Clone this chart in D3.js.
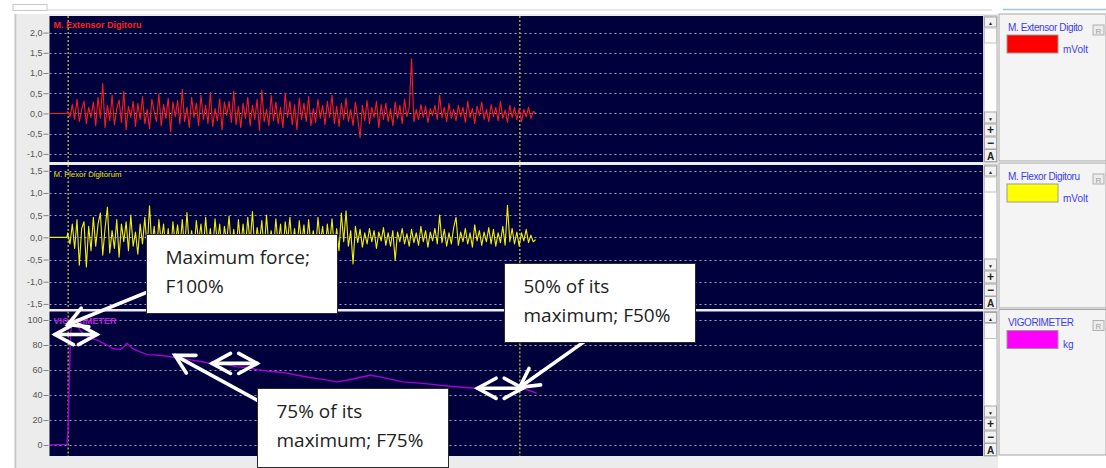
<!DOCTYPE html>
<html>
<head>
<meta charset="utf-8">
<script src="https://cdn.jsdelivr.net/npm/d3@7"></script>
<style>
  body { margin: 0; background: #fff; }
  svg { display: block; }
</style>
</head>
<body>
<div id="chart"></div>
<script>
// ---- data ----
// time axis (seconds)
const timeTicks = [0, 20, 40, 60, 80, 100, 120, 140, 160];
const timeTickLabels = ["", "00:20.0", "00:40.0", "01:00.0", "01:20.0", "01:40.0", "02:00.0", "02:20.0", "02:40.0"];
const cursorTimes = [3.2, 80.4];

const extensorTicks = [-1, -0.5, 0, 0.5, 1, 1.5, 2];
const flexorTicks = [-1.5, -1, -0.5, 0, 0.5, 1, 1.5];
const vigTicks = [0, 20, 40, 60, 80, 100];

// EMG samples (mV), one every 0.4 s starting at 3.1 s
const emgStart = 3.1, emgStep = 0.4;
const extensorValues = [
  0.05, -0.08, 0.22, -0.15, 0.35, -0.2, 0.1, 0.3, -0.25, 0.15,
  -0.1, 0.28, -0.3, 0.4, -0.12, 0.74, -0.35, 0.2, -0.18, 0.45,
  -0.28, 0.12, 0.33, -0.22, 0.55, -0.4, 0.18, -0.1, 0.3, -0.32,
  0.25, -0.15, 0.42, -0.25, 0.1, -0.38, 0.35, 0.05, -0.2, 0.48,
  -0.3, 0.22, -0.12, 0.38, -0.45, 0.28, -0.08, 0.32, -0.26, 0.6,
  -0.2, 0.15, -0.35, 0.4, -0.1, 0.25, -0.3, 0.45, -0.15, 0.2,
  -0.25, 0.52, -0.32, 0.12, -0.18, 0.36, -0.4, 0.28, -0.05, 0.3,
  -0.22, 0.55, -0.28, 0.18, -0.35, 0.25, -0.12, 0.4, -0.3, 0.2,
  -0.15, 0.35, -0.42, 0.58, -0.2, 0.1, -0.3, 0.45, -0.18, 0.28,
  -0.25, 0.15, -0.35, 0.5, -0.1, 0.3, -0.28, 0.22, -0.4, 0.38,
  -0.15, 0.25, -0.2, 0.42, -0.3, 0.12, -0.22, 0.35, -0.12, 0.2,
  -0.28, 0.3, -0.1, 0.45, -0.25, 0.18, -0.32, 0.25, -0.15, 0.38,
  -0.2, 0.1, -0.3, 0.28, -0.12, -0.6, 0.2, -0.18, 0.32, -0.25,
  0.15, -0.1, 0.3, -0.35, 0.22, -0.15, 0.25, -0.2, 0.12, -0.3,
  0.28, -0.12, 0.2, -0.25, 0.35, -0.08, 0.15, 1.35, -0.2, 0.1,
  -0.15, 0.22, -0.1, 0.18, -0.22, 0.12, -0.05, 0.2, -0.15, 0.45,
  -0.1, 0.15, -0.2, 0.25, -0.12, 0.1, -0.18, 0.2, -0.08, 0.15,
  -0.22, 0.3, -0.1, 0.12, -0.25, 0.18, -0.05, 0.28, -0.15, 0.1,
  -0.2, 0.22, -0.08, 0.15, -0.18, 0.3, -0.12, 0.08, -0.22, 0.2,
  -0.1, 0.15, -0.15, 0.12, -0.2, 0.1, -0.08, 0.15, -0.12, 0.05, 0.02
];
const flexorValues = [
  0.1, -0.15, 0.3, -0.25, 0.4, -0.63, 0.2, 0.35, -0.67, 0.25,
  -0.3, 0.45, -0.2, 0.3, 0.55, -0.4, 0.2, 0.68, -0.35, 0.15,
  -0.25, 0.4, -0.45, 0.3, -0.1, 0.35, -0.3, 0.5, -0.2, 0.12,
  -0.38, 0.3, -0.15, 0.45, -0.28, 0.71, -0.2, 0.25, -0.35, 0.4,
  -0.12, 0.3, -0.3, 0.2, -0.42, 0.35, -0.15, 0.28, -0.25, 0.4,
  -0.3, 0.56, -0.2, 0.15, -0.35, 0.38, -0.1, 0.3, -0.28, 0.45,
  -0.22, 0.2, -0.32, 0.42, -0.15, 0.3, -0.4, 0.25, -0.1, 0.48,
  -0.28, 0.18, -0.35, 0.4, -0.2, 0.3, -0.25, 0.45, -0.15, 0.58,
  -0.3, 0.22, -0.12, 0.38, -0.35, 0.5, -0.2, 0.15, -0.3, 0.42,
  -0.18, 0.3, -0.4, 0.35, -0.1, 0.45, -0.25, 0.2, -0.32, 0.38,
  -0.15, 0.28, -0.3, 0.4, -0.2, 0.15, -0.28, 0.45, -0.12, 0.25,
  -0.35, 0.3, -0.18, 0.42, -0.25, 0.2, -0.3, 0.55, -0.1, 0.6,
  -0.2, 0.15, -0.6, 0.25, -0.12, 0.18, -0.22, 0.1, -0.15, 0.2,
  -0.1, 0.15, -0.25, 0.12, -0.08, 0.22, -0.18, 0.1, -0.2, 0.15,
  -0.52, 0.12, -0.1, 0.2, -0.15, 0.08, -0.2, 0.18, -0.12, 0.1,
  -0.18, 0.25, -0.1, 0.15, -0.22, 0.12, -0.08, 0.2, -0.15, 0.5,
  -0.12, 0.18, -0.2, 0.1, -0.15, 0.22, 0.45, -0.18, 0.12, -0.1,
  0.2, -0.15, 0.1, -0.22, 0.28, -0.08, 0.15, -0.18, 0.12, -0.1,
  0.22, -0.15, 0.18, -0.2, 0.1, -0.12, 0.25, -0.18, 0.72, -0.1,
  0.2, -0.15, 0.12, -0.2, 0.1, -0.08, 0.18, -0.12, 0.05, -0.1, -0.05
];

// vigorimeter force (kg)
const vigTimes = [0, 3.0, 3.2, 3.4, 3.6, 3.8, 4.1, 4.6, 5.2, 6.0,
  6.9, 7.8, 8.6, 9.8, 10.9, 12.1, 12.7, 13.2, 13.8, 14.3,
  15.5, 16.7, 18.4, 20.1, 21.8, 23.5, 25.7, 27.8, 30.0, 32.0,
  34.0, 35.4, 37.5, 40.0, 42.2, 44.5, 46.8, 49.1, 51.0, 53.0,
  54.8, 56.5, 58.5, 60.4, 62.8, 65.5, 68.5, 71.2, 74.1, 76.5,
  78.5, 80.4, 81.8, 83.3];
const vigValues = [0, 0.5, 15, 55, 88, 98, 100, 97, 92, 88,
  85.5, 84.5, 83, 80, 77, 76.5, 78.5, 81.5, 79, 77,
  74.5, 72.3, 72, 71, 69.5, 68.5, 67, 65, 64.5, 62.5,
  62, 60.3, 59, 58, 56, 54, 52.5, 50.5, 52, 54,
  55.8, 54.5, 52.5, 50.5, 49.7, 48.5, 47, 46, 45, 44.5,
  45.5, 46, 44, 41.5];

// callouts: text lines, top-left corner in (s, kg) of the force panel
const calloutLines = [["Maximum force;", "F100%"], ["75% of its", "maximum; F75%"], ["50% of its", "maximum; F50%"]];
const calloutAt = [[16.5, 168.9], [35.5, 45.4], [77.7, 145.8]];
// arrows: [tail s, tail kg, tip s, tip kg, double-headed]
const arrows = [
  [16.5, 121.9, 3.16, 96.4, false],
  [0.94, 88.4, 8.1, 88.4, true],
  [35.5, 35.9, 21.45, 71.7, false],
  [27.8, 65.3, 35.5, 65.3, true],
  [73.2, 45.4, 80.9, 45.4, true],
  [91.5, 82.9, 80.4, 46.2, false]
];

// ---- layout ----
const W = 1106, H = 468;
const plotLeft = 49.5, plotRight = 983;
const commaFmt = d => d.toFixed(1).replace(".", ",");

const toSeries = vals => [[0, 0], [emgStart - 0.1, 0]].concat(vals.map((v, i) => [emgStart + i * emgStep, v]));

const panels = [
  {label: "M. Extensor Digitoru", legend: "M. Extensor Digito", unit: "mVolt", color: "#ff1a1a", swatch: "#ff0000",
   labelColor: "#ff2020", labelSize: 9, labelWeight: "bold",
   top: 16, bottom: 162, domain: [-1.2, 2.41], ticks: extensorTicks, fmt: commaFmt, series: toSeries(extensorValues), width: 1.1},
  {label: "M. Flexor Digitorum", legend: "M. Flexor Digitoru", unit: "mVolt", color: "#f2f200", swatch: "#ffff00",
   labelColor: "#e6e600", labelSize: 7.8, labelWeight: "normal",
   top: 165, bottom: 309, domain: [-1.615, 1.63], ticks: flexorTicks, fmt: commaFmt, series: toSeries(flexorValues), width: 1.1},
  {label: "VIGORIMETER", legend: "VIGORIMETER", unit: "kg", color: "#a400d0", swatch: "#ff00ff",
   labelColor: "#b028d8", labelSize: 9, labelWeight: "bold",
   top: 311.5, bottom: 456, domain: [-8.76, 106.8], ticks: vigTicks, fmt: d3.format("d"),
   series: vigTimes.map((t, i) => [t, vigValues[i]]), width: 1.4}
];

const svg = d3.select("#chart").append("svg")
  .attr("width", W).attr("height", H)
  .style("font-family", "'Liberation Sans', Arial, sans-serif");

svg.append("rect").attr("width", W).attr("height", H).attr("fill", "#ffffff");
svg.append("rect").attr("x", 17).attr("y", 14).attr("width", 981).attr("height", H - 14).attr("fill", "#ececec");
svg.append("line").attr("x1", 15.5).attr("x2", 15.5).attr("y1", 14).attr("y2", H).attr("stroke", "#c4c4c4").attr("stroke-width", 2);

// top ruler strip
svg.append("rect").attr("x", 13).attr("y", 4.5).attr("width", 34).attr("height", 6).attr("fill", "none").attr("stroke", "#c8c8c8");
svg.append("line").attr("x1", 47).attr("x2", 992).attr("y1", 10).attr("y2", 10).attr("stroke", "#cfcfcf");
svg.append("line").attr("x1", 1003).attr("x2", W).attr("y1", 9.5).attr("y2", 9.5).attr("stroke", "#a8c4d4").attr("stroke-width", 1.5);

const x = d3.scaleLinear().domain([0, 159.6]).range([plotLeft, plotRight]);
let yForce;

panels.forEach((p, k) => {
  const y = d3.scaleLinear().domain(p.domain).range([p.bottom, p.top]);
  if (k === 2) yForce = y;
  const g = svg.append("g");

  g.append("rect")
    .attr("x", plotLeft).attr("y", p.top)
    .attr("width", plotRight - plotLeft).attr("height", p.bottom - p.top)
    .attr("fill", "#00003c");

  // dotted grid
  g.selectAll(".grid").data(p.ticks).join("line")
    .attr("x1", plotLeft).attr("x2", plotRight)
    .attr("y1", d => Math.round(y(d)) + 0.5).attr("y2", d => Math.round(y(d)) + 0.5)
    .attr("stroke", "#a4a4c4").attr("stroke-dasharray", "2,3");

  // y axis
  const ax = g.append("g")
    .attr("transform", `translate(${plotLeft - 1},0)`)
    .call(d3.axisLeft(y).tickValues(p.ticks).tickSize(5).tickPadding(1).tickFormat(p.fmt));
  ax.select(".domain").remove();
  ax.selectAll("line").attr("stroke", "#808080");
  ax.selectAll("text").attr("fill", "#555").style("font-size", "9px")
    .style("font-family", "'Liberation Sans', Arial, sans-serif");

  // cursors
  g.selectAll(".cursor").data(cursorTimes).join("line")
    .attr("x1", d => x(d)).attr("x2", d => x(d))
    .attr("y1", p.top).attr("y2", p.bottom)
    .attr("stroke", "#9c9c3a").attr("stroke-width", 1.6).attr("stroke-dasharray", "2,2");

  const cid = "clip" + k;
  svg.append("clipPath").attr("id", cid).append("rect")
    .attr("x", plotLeft).attr("y", p.top)
    .attr("width", plotRight - plotLeft).attr("height", p.bottom - p.top);

  g.append("path").datum(p.series)
    .attr("clip-path", `url(#${cid})`)
    .attr("fill", "none").attr("stroke", p.color).attr("stroke-width", p.width)
    .attr("stroke-linejoin", "round")
    .attr("d", d3.line().x(d => x(d[0])).y(d => y(d[1])));

  g.append("text")
    .attr("x", plotLeft + 4).attr("y", p.top + 12)
    .attr("fill", p.labelColor).style("font-size", p.labelSize + "px")
    .style("font-weight", p.labelWeight)
    .text(p.label);

  // scroll column
  const sx = 984, sw = 13;
  const sc = svg.append("g");
  sc.append("rect").attr("x", sx).attr("y", p.top).attr("width", sw).attr("height", p.bottom - p.top)
    .attr("fill", "#ffffff").attr("stroke", "#b4b4b4");
  const btn = (yy, hh, txt, size) => {
    sc.append("rect").attr("x", sx + 0.5).attr("y", yy).attr("width", sw - 1).attr("height", hh)
      .attr("fill", "#f2f2f2").attr("stroke", "#a8a8a8");
    sc.append("text").attr("x", sx + sw / 2).attr("y", yy + hh - 2).attr("text-anchor", "middle")
      .style("font-size", size + "px").style("font-weight", "bold").attr("fill", "#222").text(txt);
  };
  btn(p.top + 1, 10, "▲", 5);
  sc.append("rect").attr("x", sx + 0.5).attr("y", p.top + 12).attr("width", sw - 1).attr("height", 15)
    .attr("fill", "#fafafa").attr("stroke", "#c4c4c4");
  btn(p.bottom - 50, 11, "▼", 5);
  btn(p.bottom - 38, 12, "+", 12);
  btn(p.bottom - 25, 12, "−", 12);
  btn(p.bottom - 12.5, 12, "A", 10);

  // legend box
  const lx = 999;
  const lg = svg.append("g");
  lg.append("rect").attr("x", lx).attr("y", p.top - 2).attr("width", W - lx).attr("height", p.bottom - p.top + 1)
    .attr("fill", "#f4f4f4").attr("stroke", "#a8a8a8");
  lg.append("text").attr("x", 1008).attr("y", p.top + 14.5)
    .attr("fill", "#3c3cf0").style("font-size", "10px").style("letter-spacing", "-0.4px")
    .text(p.legend);
  lg.append("rect").attr("x", 1093).attr("y", p.top + 9).attr("width", 11).attr("height", 10)
    .attr("fill", "#ececec").attr("stroke", "#b0b0b0");
  lg.append("text").attr("x", 1098.5).attr("y", p.top + 17.5).attr("text-anchor", "middle")
    .attr("fill", "#a0a0a0").style("font-size", "8px").text("R");
  lg.append("rect").attr("x", 1007).attr("y", p.top + 19).attr("width", 51).attr("height", 18)
    .attr("fill", p.swatch).attr("stroke", "#9a9a9a");
  lg.append("text").attr("x", 1063).attr("y", p.top + 36.5)
    .attr("fill", "#3c3cf0").style("font-size", "10px").text(p.unit);
});

// time axis
svg.append("clipPath").attr("id", "xclip").append("rect")
  .attr("x", 0).attr("y", 456).attr("width", 988).attr("height", 14);
const xa = svg.append("g")
  .attr("transform", "translate(0,456.5)")
  .attr("clip-path", "url(#xclip)")
  .call(d3.axisBottom(x).tickValues(timeTicks).tickSize(4).tickPadding(1).tickFormat((d, i) => timeTickLabels[i]));
xa.select(".domain").remove();
xa.selectAll("line").attr("stroke", "#808080");
xa.selectAll("text").attr("fill", "#555").style("font-size", "8px")
  .style("font-family", "'Liberation Sans', Arial, sans-serif");

// ---- annotations ----
const ann = svg.append("g");
const white = sel => sel.attr("fill", "none").attr("stroke", "#ffffff").attr("stroke-width", 3.6)
  .attr("stroke-linecap", "round").attr("stroke-linejoin", "miter");

function head(tipX, tipY, fromX, fromY) {
  const a = Math.atan2(fromY - tipY, fromX - tipX), L = 21, s = 0.5;
  const p1 = [tipX + L * Math.cos(a - s), tipY + L * Math.sin(a - s)];
  const p2 = [tipX + L * Math.cos(a + s), tipY + L * Math.sin(a + s)];
  ann.append("path").attr("d", `M${p1}L${tipX},${tipY}L${p2}`).call(white);
}

arrows.forEach(([t0, v0, t1, v1, dbl]) => {
  const x0 = x(t0), y0 = yForce(v0), x1 = x(t1), y1 = yForce(v1);
  ann.append("line").attr("x1", x0).attr("y1", y0).attr("x2", x1).attr("y2", y1).call(white);
  head(x1, y1, x0, y0);
  if (dbl) head(x0, y0, x1, y1);
});

calloutLines.forEach((lines, i) => {
  const bx = Math.round(x(calloutAt[i][0])) + 0.5, by = Math.round(yForce(calloutAt[i][1])) + 0.5;
  ann.append("rect").attr("x", bx).attr("y", by).attr("width", 191).attr("height", 79)
    .attr("fill", "#ffffff").attr("stroke", "#2a2a2a");
  lines.forEach((s, j) => {
    ann.append("text").attr("x", bx + 19).attr("y", by + 29 + j * 29.5)
      .attr("fill", "#1e1e1e").style("font-family", "'Open Sans', sans-serif")
      .style("font-size", "19px").text(s);
  });
});
</script>
</body>
</html>
